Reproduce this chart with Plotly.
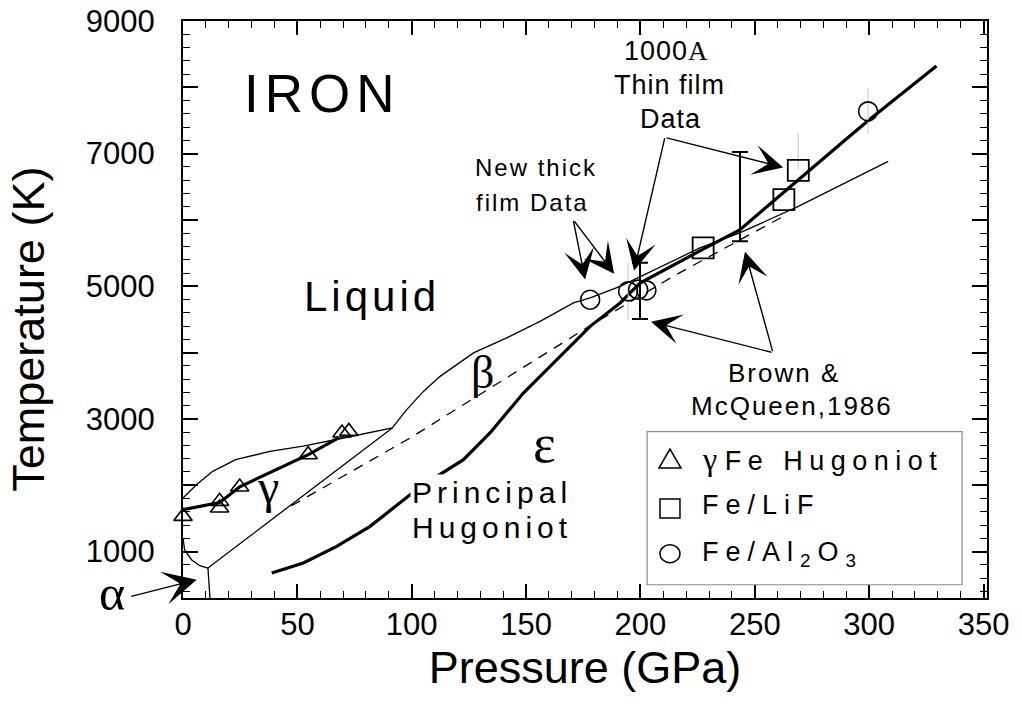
import plotly.graph_objects as go

SANS = "Liberation Sans, Arial, Helvetica, sans-serif"
SERIF = "Liberation Serif, Times New Roman, serif"

# ---------------- phase boundaries (pressure in GPa, temperature in K) ----------------
melt_p = [0, 6, 13, 23, 38, 52.5, 67, 81.6, 91.5, 97.8, 105.1, 112.4, 119.7, 127, 141.5,
          156.1, 170.7, 178, 191.1, 200, 226, 243.4, 269, 308.3]
melt_T = [1808, 2010, 2210, 2385, 2510, 2590, 2690, 2790, 2864, 3140, 3415, 3642, 3818, 3995, 4221,
          4471, 4749, 4824, 5000, 5150, 5578, 5804, 6205, 6884]

gamma_eps_p = [10.9, 91.5]
gamma_eps_T = [752, 2864]

alpha_gamma_p = [0, 0.7, 3.7, 7.3, 10.9]
alpha_gamma_T = [1205, 1028, 877, 787, 752]

alpha_eps_p = [10.9, 11.8]
alpha_eps_T = [752, 300]

beta_eps_p = [47.4, 99.3, 176.4, 214.3, 246.3, 262.5]
beta_eps_T = [1690, 2713, 4372, 5150, 5753, 6054]

# principal Hugoniot of iron
hug_p = [38.8, 52.6, 67.2, 81.8, 99.3, 110, 122.6, 134.2, 148.8, 163.4, 178, 191.1, 199.8,
         227.4, 243.4, 261, 275.5, 290, 300, 313.4, 329.4]
hug_T = [677, 828, 1078, 1380, 1858, 2110, 2386, 2788, 3391, 3894, 4396, 4749, 5050,
         5560, 5850, 6370, 6800, 7220, 7510, 7880, 8320]

# gamma-Fe Hugoniot: fitted curve and measured points
gfe_fit_p = [0, 16, 25, 55, 68]
gfe_fit_T = [1632, 1740, 1980, 2465, 2715]
gfe_p = [0, 16, 16, 24.8, 54.7, 69.5, 72.5]
gfe_T = [1530, 1657, 1757, 1974, 2461, 2788, 2812]

# thin film data, Fe/LiF
lif_p = [227.4, 262.7, 269]
lif_T = [5578, 6306, 6748]
lif_err_up = [0, 0, 560]
lif_err_dn = [0, 0, 0]

# Fe/Al2O3
al2o3_p = [178, 194.6, 199, 202.6, 299.5]
al2o3_T = [4798, 4924, 4949, 4939, 7638]
al2o3_err = [0, 430, 0, 0, 340]

# Brown & McQueen (1986) temperature ranges
bm_p = [199.8, 243.5]
bm_lo = [4507, 5678]
bm_hi = [5356, 7026]

y_tick_vals = [1000, 2000, 3000, 4000, 5000, 6000, 7000, 8000, 9000]
y_tick_text = ["1000", "", "3000", "", "5000", "", "7000", "", "9000"]

fig = go.Figure()


def boundary(px, ty, width=1.3, dash=None):
    fig.add_trace(go.Scatter(x=px, y=ty, mode="lines",
                             line=dict(color="black", width=width, dash=dash),
                             hoverinfo="skip"))


boundary(melt_p, melt_T)
boundary(gamma_eps_p, gamma_eps_T)
boundary(alpha_gamma_p, alpha_gamma_T)
boundary(alpha_eps_p, alpha_eps_T)
boundary(beta_eps_p, beta_eps_T, dash="10px,8px")
boundary(hug_p, hug_T, width=3.2)
boundary(gfe_fit_p, gfe_fit_T, width=3.2)

# Brown & McQueen bars
bm_mid = [(a + b) / 2 for a, b in zip(bm_lo, bm_hi)]
bm_half = [(b - a) / 2 for a, b in zip(bm_lo, bm_hi)]
fig.add_trace(go.Scatter(x=bm_p, y=bm_mid, mode="markers",
                         marker=dict(size=0.1, color="rgba(0,0,0,0)"),
                         error_y=dict(type="data", array=bm_half, visible=True,
                                      color="black", thickness=2, width=8)))

fig.add_trace(go.Scatter(x=gfe_p, y=gfe_T, mode="markers", cliponaxis=False,
                         marker=dict(symbol="triangle-up-open", size=16, color="black",
                                     line=dict(width=1.6, color="black"))))
fig.add_trace(go.Scatter(x=lif_p, y=lif_T, mode="markers",
                         error_y=dict(type="data", array=lif_err_up, arrayminus=lif_err_dn,
                                      visible=True, color="#cfcfcf", thickness=1.2, width=0),
                         marker=dict(symbol="square-open", size=21, color="black",
                                     line=dict(width=1.8, color="black"))))
fig.add_trace(go.Scatter(x=al2o3_p, y=al2o3_T, mode="markers",
                         error_y=dict(type="data", array=al2o3_err, visible=True,
                                      color="#cfcfcf", thickness=1.2, width=0),
                         marker=dict(symbol="circle-open", size=19, color="black",
                                     line=dict(width=1.6, color="black"))))

annotations = []


def text(s, x, y, size, ls=0, family=SANS, bg=None, xanchor="center", xref="x", yref="y", angle=0):
    if ls:
        s = f'<span style="letter-spacing:{ls}px">{s}</span>'
    a = dict(text=s, x=x, y=y, xref=xref, yref=yref, showarrow=False,
             xanchor=xanchor, yanchor="middle", textangle=angle,
             font=dict(family=family, size=size, color="black"))
    if bg:
        a["bgcolor"] = bg
        a["borderpad"] = 1
    annotations.append(a)


def arrow(x, y, ax, ay, size=3.6):
    annotations.append(dict(text="", x=x, y=y, ax=ax, ay=ay, xref="x", yref="y",
                            showarrow=True, arrowhead=3, arrowsize=size, arrowwidth=1.4,
                            arrowcolor="black", standoff=0))


text("IRON", 60.8, 7905, 53, ls=6)
text("Liquid", 82.6, 4844, 42, ls=4)
text("Principal", 135.3, 1895, 30, ls=5, bg="white")
text("Hugoniot", 135.3, 1368, 30, ls=5)
text("New thick", 154.3, 6785, 24, ls=2)
text("film Data", 153, 6257, 24, ls=2)
text('1000<span style="font-family:Liberation Serif">A</span>', 211.5, 8543, 27, ls=1)
text("Thin film", 212.5, 8041, 27, ls=1)
text("Data", 213, 7528, 27, ls=1)
text("Brown &amp;", 262.8, 3698, 26, ls=2)
text("McQueen,1986", 266.3, 3200, 26, ls=2)
text("β", 131, 3697, 46, family=SERIF)
text("ε", 158.2, 2627, 54, family=SERIF)
text("γ", 37.2, 1986, 48, family=SERIF)
text("α", -0.0877, 0.0095, 50, family=SERIF, xref="paper", yref="paper")

# pointers
arrow(6.0, 576, -67, 17, size=4.0)
arrow(175.8, 5104, -12, -60)
arrow(188.5, 5190, -41, -54)
arrow(197.2, 5236, 31, -134)
arrow(262.4, 6792, -118, -30)
arrow(204.6, 4467, 122, 31)
arrow(245.7, 5522, 28, 101)

# y axis title
text("Temperature (K)", -0.1915, 0.465, 45, xref="paper", yref="paper", angle=-90)

# key box
shapes = [dict(type="rect", xref="x", yref="y", x0=202.9, x1=340.6, y0=500, y1=2808,
               line=dict(color="#8a8a8a", width=1.2), fillcolor="white", layer="above")]
key_x = 212.9
key_rows = [2380, 1650, 968]
shapes.append(dict(type="path", xref="x", yref="y", xsizemode="pixel", ysizemode="pixel",
                   xanchor=key_x, yanchor=key_rows[0], path="M-11,-8 L11,-8 L0,11 Z",
                   line=dict(color="black", width=1.5)))
shapes.append(dict(type="rect", xref="x", yref="y", xsizemode="pixel", ysizemode="pixel",
                   xanchor=key_x, yanchor=key_rows[1], x0=-10, x1=10, y0=-9.5, y1=9.5,
                   line=dict(color="black", width=1.5)))
shapes.append(dict(type="circle", xref="x", yref="y", xsizemode="pixel", ysizemode="pixel",
                   xanchor=key_x, yanchor=key_rows[2], x0=-10, x1=10, y0=-9, y1=9,
                   line=dict(color="black", width=1.5)))

text('<span style="font-family:Liberation Serif;font-size:32px">γ</span> '
     '<span style="letter-spacing:6.5px">Fe Hugoniot</span>', 226.1, 2400, 27, xanchor="left")
text("Fe/LiF", 226.1, 1700, 27, ls=7, xanchor="left")
text('<span style="letter-spacing:7px">Fe/Al<sub>2</sub>O<sub>3</sub></span>', 226.1, 960, 27,
     xanchor="left")

axis_common = dict(showline=True, linewidth=2, linecolor="black", mirror="allticks",
                   ticks="inside", tickwidth=1.5, tickcolor="black", showgrid=False,
                   zeroline=False, automargin=False,
                   tickfont=dict(family=SANS, size=31, color="black"))

fig.update_layout(
    width=1022, height=717,
    margin=dict(l=183, r=35, t=21, b=119),
    paper_bgcolor="white", plot_bgcolor="white",
    showlegend=False,
    xaxis=dict(range=[0, 351.5], tickmode="linear", tick0=0, dtick=50, ticklen=14,
               ticklabelstandoff=-2,
               minor=dict(ticks="inside", ticklen=7, tickwidth=1.2, tickcolor="black",
                          tickmode="linear", tick0=0, dtick=10),
               title=dict(text="Pressure (GPa)", standoff=10,
                          font=dict(family=SANS, size=45, color="black")),
               **axis_common),
    yaxis=dict(range=[300, 9000], tickmode="array", tickvals=y_tick_vals, ticktext=y_tick_text,
               ticklen=15, ticklabelstandoff=20,
               minor=dict(ticks="inside", ticklen=7, tickwidth=1.2, tickcolor="black",
                          tickmode="linear", tick0=0, dtick=200),
               **axis_common),
    annotations=annotations,
    shapes=shapes,
)

fig.write_html("out.html")
